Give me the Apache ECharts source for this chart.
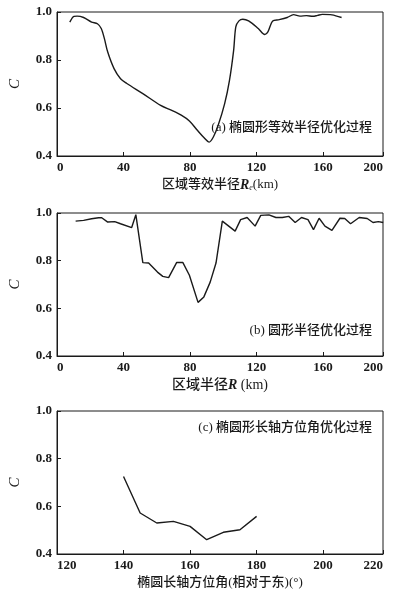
<!DOCTYPE html>
<html>
<head>
<meta charset="utf-8">
<script src="https://cdn.jsdelivr.net/npm/echarts@6/dist/echarts.min.js"></script>
<style>
  html, body { margin: 0; padding: 0; background: #fff; }
  #chart { width: 396px; height: 600px; }
</style>
</head>
<body>
<div id="chart"></div>
<script>
// (a) 椭圆形等效半径
var xA = [7.7, 10.2, 12.1, 16, 20.8, 24.3, 26.6, 28.5, 30.5, 34.3, 38.2, 42, 51.6, 62.3, 69, 74.7, 79.6, 84.4, 88.3, 91.5,
  94, 96.9, 100.8, 103.7, 106.2, 107.5, 109.4, 111.7, 115.2, 121, 124.9, 126.8, 129.7, 133.6, 138.4, 142.2, 146.1, 150,
  153.8, 156.7, 159.5, 165.3, 171.1];
var cA = [0.958, 0.982, 0.983, 0.977, 0.958, 0.951, 0.931, 0.889, 0.833, 0.764, 0.722, 0.702, 0.66, 0.611, 0.59, 0.57,
  0.546, 0.507, 0.477, 0.458, 0.479, 0.528, 0.618, 0.715, 0.84, 0.938, 0.963, 0.97, 0.963, 0.931, 0.906, 0.917, 0.963,
  0.968, 0.977, 0.989, 0.983, 0.985, 0.982, 0.986, 0.99, 0.988, 0.977];
// (b) 圆形半径
var xB = [11.2, 16, 20.8, 25, 26.9, 30.5, 34.7, 38.2, 44.9, 47.4, 51.6, 55.1, 60.4, 63.6, 67.1, 71.9, 75.7, 79.6, 84.8,
  88.3, 92.1, 95.6, 99.4, 107.1, 110.4, 114.3, 119.1, 122.5, 127.4, 131.6, 135.5, 139.3, 143.2, 147, 150.9, 154.2,
  157.6, 161.1, 165.3, 170.1, 173, 176.5, 181.7, 186.5, 190, 193.2, 196.1];
var cB = [0.966, 0.969, 0.976, 0.98, 0.98, 0.962, 0.964, 0.955, 0.939, 0.993, 0.792, 0.79, 0.752, 0.734, 0.729, 0.792,
  0.792, 0.739, 0.625, 0.648, 0.71, 0.79, 0.966, 0.924, 0.972, 0.981, 0.945, 0.99, 0.992, 0.981, 0.981, 0.986, 0.96,
  0.981, 0.972, 0.93, 0.978, 0.945, 0.927, 0.978, 0.977, 0.955, 0.981, 0.977, 0.96, 0.964, 0.96];
// (c) 长轴方位角
var xC = [140, 145, 150, 155, 160, 165, 170, 175, 180];
var cC = [0.725, 0.572, 0.530, 0.537, 0.516, 0.460, 0.491, 0.502, 0.558];

var xTicksAB = ['0', '40', '80', '120', '160', '200'];
var xTicksC = ['120', '140', '160', '180', '200', '220'];
var yTicks = ['0.4', '0.6', '0.8', '1.0'];

var serif = "'Liberation Serif', 'Noto Sans CJK SC', serif";
var cjk = "'Liberation Serif', 'Noto Sans CJK SC', sans-serif";
var ink = '#1a1a1a';

function zip(xs, ys) {
  return xs.map(function (x, i) { return [x, ys[i]]; });
}

function xAxisOf(idx, min, max, interval, ticks, name, nameStyle) {
  return {
    type: 'value', gridIndex: idx, min: min, max: max, interval: interval,
    name: name, nameLocation: 'middle', nameGap: 22,
    nameTextStyle: nameStyle,
    axisLine: { lineStyle: { color: ink, width: 1 } },
    axisTick: { inside: true, length: 4, lineStyle: { color: ink } },
    splitLine: { show: false },
    axisLabel: {
      color: ink, fontFamily: serif, fontSize: 13, fontWeight: 'bold', margin: 5,
      alignMinLabel: 'left', alignMaxLabel: 'right',
      formatter: function (v, i) { return ticks[i]; }
    }
  };
}

function yAxisOf(idx) {
  return {
    type: 'value', gridIndex: idx, min: 0.4, max: 1.0, interval: 0.2,
    name: 'C', nameLocation: 'middle', nameGap: 34, nameRotate: 90,
    nameTextStyle: { fontFamily: serif, fontStyle: 'italic', fontSize: 15, color: ink },
    axisLine: { show: true, lineStyle: { color: ink, width: 1 } },
    axisTick: { inside: true, length: 4, lineStyle: { color: ink } },
    splitLine: { show: false },
    axisLabel: {
      color: ink, fontFamily: serif, fontSize: 13, fontWeight: 'bold', margin: 5,
      formatter: function (v, i) { return yTicks[i]; }
    }
  };
}

var nameStyle = { fontFamily: cjk, fontSize: 13, color: ink, fontWeight: 500 };

var option = {
  backgroundColor: '#fff',
  animation: false,
  grid: [
    { left: 44, top: 12, width: 339, height: 144, show: true, borderColor: ink, borderWidth: 1 },
    { left: 44, top: 213, width: 339, height: 143, show: true, borderColor: ink, borderWidth: 1 },
    { left: 44, top: 411, width: 339, height: 143, show: true, borderColor: ink, borderWidth: 1 }
  ],
  xAxis: [
    xAxisOf(0, 0, 196, 40, xTicksAB, '区域等效半径{i|R}{s|e}(km)', {
      fontFamily: cjk, fontSize: 13, color: ink, fontWeight: 500,
      rich: {
        i: { fontFamily: serif, fontStyle: 'italic', fontWeight: 'bold', fontSize: 14, color: ink },
        s: { fontFamily: serif, fontStyle: 'italic', fontSize: 8, color: ink, padding: [6, 0, 0, 0] }
      }
    }),
    xAxisOf(1, 0, 196, 40, xTicksAB, '区域半径{i|R} (km)', {
      fontFamily: cjk, fontSize: 14, color: ink, fontWeight: 500,
      rich: { i: { fontFamily: serif, fontStyle: 'italic', fontWeight: 'bold', fontSize: 14, color: ink } }
    }),
    xAxisOf(2, 120, 218, 20, xTicksC, '椭圆长轴方位角(相对于东)(°)', nameStyle)
  ],
  yAxis: [yAxisOf(0), yAxisOf(1), yAxisOf(2)],
  graphic: [
    { type: 'text', right: 24, top: 121, style: { text: '(a) 椭圆形等效半径优化过程', font: '500 13px ' + cjk, fill: ink } },
    { type: 'text', right: 24, top: 324, style: { text: '(b) 圆形半径优化过程', font: '500 13px ' + cjk, fill: ink } },
    { type: 'text', right: 24, top: 421, style: { text: '(c) 椭圆形长轴方位角优化过程', font: '500 13px ' + cjk, fill: ink } }
  ],
  series: [
    { type: 'line', xAxisIndex: 0, yAxisIndex: 0, data: zip(xA, cA), smooth: 0.3, showSymbol: false,
      lineStyle: { color: ink, width: 1.4 } },
    { type: 'line', xAxisIndex: 1, yAxisIndex: 1, data: zip(xB, cB), showSymbol: false,
      lineStyle: { color: ink, width: 1.4 } },
    { type: 'line', xAxisIndex: 2, yAxisIndex: 2, data: zip(xC, cC), showSymbol: false,
      lineStyle: { color: ink, width: 1.4 } }
  ]
};

var myChart = echarts.init(document.getElementById('chart'));
myChart.setOption(option);
</script>
</body>
</html>
